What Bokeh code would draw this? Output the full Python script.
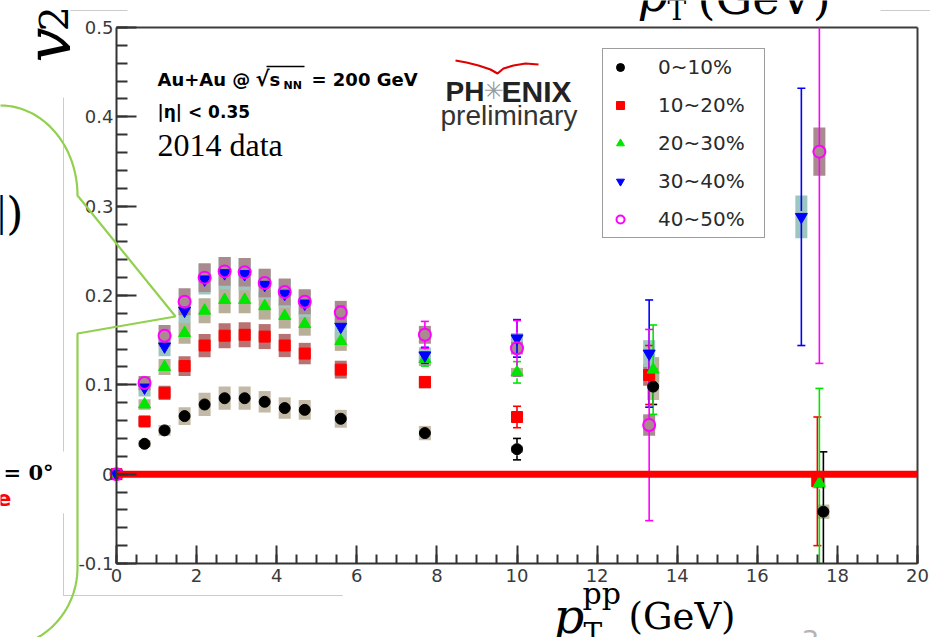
import numpy as np
from bokeh.plotting import figure
from bokeh.models import (Range1d, LinearAxis, FixedTicker, Label, PolyAnnotation,
                          Legend, LegendItem, ColumnDataSource)
from bokeh.embed import file_html
from bokeh.resources import INLINE

# ---------------- data ----------------
centralities = ["0~10%", "10~20%", "20~30%", "30~40%", "40~50%"]

pt_0_10 = [0.0, 0.7, 1.2, 1.7, 2.2, 2.7, 3.2, 3.7, 4.2, 4.7, 5.6, 7.7, 10.0, 13.4, 17.65]
v2_0_10 = [0.0, 0.034, 0.049, 0.065, 0.078, 0.085, 0.085, 0.081, 0.074, 0.072, 0.062, 0.046, 0.028, 0.098, -0.042]
stat_0_10 = [0.0, 0.002, 0.002, 0.003, 0.003, 0.003, 0.003, 0.003, 0.003, 0.003, 0.004, 0.005, 0.012, 0.020, 0.067]
sys_0_10 = [0.0, 0.004, 0.006, 0.010, 0.013, 0.013, 0.013, 0.012, 0.012, 0.011, 0.010, 0.008, 0.004, 0.015, 0.008]

pt_10_20 = [0.0, 0.7, 1.2, 1.7, 2.2, 2.7, 3.2, 3.7, 4.2, 4.7, 5.6, 7.7, 10.0, 13.3, 17.5]
v2_10_20 = [0.0, 0.059, 0.091, 0.121, 0.144, 0.155, 0.156, 0.154, 0.144, 0.135, 0.117, 0.103, 0.064, 0.111, -0.008]
stat_10_20 = [0.0, 0.002, 0.002, 0.003, 0.003, 0.003, 0.003, 0.003, 0.003, 0.003, 0.004, 0.005, 0.012, 0.033, 0.072]
sys_10_20 = [0.0, 0.005, 0.008, 0.011, 0.013, 0.014, 0.014, 0.014, 0.013, 0.012, 0.010, 0.007, 0.004, 0.012, 0.006]

pt_20_30 = [0.0, 0.7, 1.2, 1.7, 2.2, 2.7, 3.2, 3.7, 4.2, 4.7, 5.6, 7.7, 10.0, 13.4, 17.55]
v2_20_30 = [0.0, 0.078, 0.120, 0.158, 0.183, 0.195, 0.195, 0.188, 0.177, 0.168, 0.149, 0.129, 0.114, 0.117, -0.010]
stat_20_30 = [0.0, 0.002, 0.003, 0.003, 0.003, 0.003, 0.003, 0.003, 0.003, 0.004, 0.005, 0.008, 0.012, 0.050, 0.106]
sys_20_30 = [0.0, 0.006, 0.009, 0.012, 0.014, 0.015, 0.015, 0.015, 0.014, 0.013, 0.011, 0.008, 0.005, 0.014, 0.006]

pt_30_40 = [0.0, 0.7, 1.2, 1.7, 2.2, 2.7, 3.2, 3.7, 4.2, 4.7, 5.6, 7.7, 10.0, 13.3, 17.1]
v2_30_40 = [0.0, 0.097, 0.143, 0.183, 0.218, 0.225, 0.224, 0.212, 0.202, 0.191, 0.165, 0.133, 0.152, 0.135, 0.288]
stat_30_40 = [0.0, 0.003, 0.003, 0.004, 0.004, 0.004, 0.004, 0.004, 0.004, 0.005, 0.006, 0.009, 0.021, 0.060, 0.144]
sys_30_40 = [0.0, 0.010, 0.011, 0.014, 0.017, 0.018, 0.018, 0.017, 0.016, 0.015, 0.013, 0.009, 0.006, 0.015, 0.024]

pt_40_50 = [0.0, 0.7, 1.2, 1.7, 2.2, 2.7, 3.2, 3.7, 4.2, 4.7, 5.6, 7.7, 10.0, 13.3, 17.55]
v2_40_50 = [0.0, 0.102, 0.155, 0.193, 0.220, 0.227, 0.226, 0.214, 0.204, 0.193, 0.181, 0.156, 0.141, 0.055, 0.361]
stat_40_50 = [0.0, 0.003, 0.004, 0.004, 0.004, 0.004, 0.004, 0.005, 0.005, 0.006, 0.007, 0.015, 0.031, 0.107, 0.237]
sys_40_50 = [0.0, 0.008, 0.012, 0.015, 0.016, 0.016, 0.016, 0.016, 0.015, 0.014, 0.013, 0.010, 0.007, 0.012, 0.027]

x_ticks = [0, 2, 4, 6, 8, 10, 12, 14, 16, 18, 20]
x_tick_labels = ["0", "2", "4", "6", "8", "10", "12", "14", "16", "18", "20"]
y_ticks = [-0.1, 0.0, 0.1, 0.2, 0.3, 0.4, 0.5]
y_tick_labels = ["-0.1", "0", "0.1", "0.2", "0.3", "0.4", "0.5"]

# ---------------- layout: the frame covers the whole page ----------------
W, H = 930, 637
FL, FT, FR, FB = 116, 27, 917, 563          # ROOT frame edges in page pixels
XMIN, XMAX = x_ticks[0], x_ticks[-1]
YMIN, YMAX = y_ticks[0], y_ticks[-1]
kx = (FR - FL) / (XMAX - XMIN)
ky = (FB - FT) / (YMAX - YMIN)
x_range = Range1d(XMIN - FL / kx, XMAX + (W - FR) / kx)
y_range = Range1d(YMIN - (H - FB) / ky, YMAX + FT / ky)

p = figure(width=W, height=H, x_range=x_range, y_range=y_range,
           output_backend="svg", toolbar_location=None,
           x_axis_location=None, y_axis_location=None,
           min_border=0, min_border_left=0, min_border_right=0,
           min_border_top=0, min_border_bottom=0)
p.background_fill_color = "white"
p.border_fill_color = "white"
p.outline_line_color = None
for g in p.grid:
    g.visible = False

x_minor = [XMIN + 0.5 * i for i in range(int((XMAX - XMIN) / 0.5) + 1)]
y_minor = [round(YMIN + 0.02 * i, 3) for i in range(31)]

AX = "#333333"
common = dict(axis_line_color=AX, axis_line_width=2,
              major_tick_line_color=AX, major_tick_line_width=2,
              minor_tick_line_color=AX, minor_tick_line_width=2,
              major_tick_out=0, minor_tick_out=0,
              major_label_text_font="DejaVu Sans", major_label_text_font_size="18px",
              major_label_text_color="#3a3a3a")
yax = LinearAxis(ticker=FixedTicker(ticks=y_ticks, minor_ticks=y_minor),
                 major_label_overrides=dict(zip(y_ticks, y_tick_labels)),
                 fixed_location=XMIN, bounds=(YMIN, YMAX),
                 major_tick_in=20, minor_tick_in=11, major_label_standoff=3, **common)
xax = LinearAxis(ticker=FixedTicker(ticks=x_ticks, minor_ticks=x_minor),
                 major_label_overrides=dict(zip(x_ticks, x_tick_labels)),
                 fixed_location=YMIN, bounds=(XMIN, XMAX),
                 major_tick_in=18, minor_tick_in=9, major_label_standoff=5, **common)
p.add_layout(yax, "left")
p.add_layout(xax, "below")

# ROOT frame: top and right edges
p.segment(x0=[XMIN, XMAX], y0=[YMAX, YMIN], x1=[XMAX, XMAX], y1=[YMAX, YMAX],
          line_color="#3c3c3c", line_width=2)

# ---------------- series ----------------
series = [
    (pt_0_10, v2_0_10, stat_0_10, sys_0_10, "#000000", "#c3b9a7", "circle", 11, "#000000"),
    (pt_10_20, v2_10_20, stat_10_20, sys_10_20, "#ff0000", "#b97272", "square", 11, "#ff0000"),
    (pt_20_30, v2_20_30, stat_20_30, sys_20_30, "#00e600", "#b8af98", "triangle", 12, "#00e600"),
    (pt_30_40, v2_30_40, stat_30_40, sys_30_40, "#0000ff", "#9ec6c0", "inverted_triangle", 12, "#0000ff"),
    (pt_40_50, v2_40_50, stat_40_50, sys_40_50, "#ff00ff", "#a98a8e", "circle", 12, None),
]

BOXW = 0.30
GAP = 6.0 / ky   # marker radius in v2 units: error lines stop at the marker, ROOT style

srcs = []
for pt, v2, st, sy_, col, scol, mk, ms, fill in series:
    pt = np.array(pt); v2 = np.array(v2); sy_ = np.array(sy_)
    src = ColumnDataSource(dict(pt=pt, v2=v2, l=pt - BOXW / 2, r=pt + BOXW / 2,
                                lo=v2 - sy_, hi=v2 + sy_))
    srcs.append(src)
    p.quad(left="l", right="r", bottom="lo", top="hi", source=src,
           fill_color=scol, line_color=None)

marker_renderers = []
for (pt, v2, st, sy_, col, scol, mk, ms, fill), src in zip(series, srcs):
    pt = np.array(pt); v2 = np.array(v2); st = np.array(st)
    m = st > GAP
    up = v2[m] + st[m]; dn = v2[m] - st[m]
    e = ColumnDataSource(dict(x=pt[m], up0=v2[m] + GAP, up1=np.clip(up, YMIN, YMAX),
                              dn0=v2[m] - GAP, dn1=np.clip(dn, YMIN, YMAX)))
    p.segment(x0="x", y0="up0", x1="x", y1="up1", source=e, line_color=col, line_width=1.6)
    p.segment(x0="x", y0="dn0", x1="x", y1="dn1", source=e, line_color=col, line_width=1.6)
    cu = up <= YMAX; cd = dn >= YMIN
    p.scatter(x=pt[m][cu], y=up[cu], marker="dash", size=8, line_color=col, line_width=1.6)
    p.scatter(x=pt[m][cd], y=dn[cd], marker="dash", size=8, line_color=col, line_width=1.6)

for (pt, v2, st, sy_, col, scol, mk, ms, fill), src in zip(series, srcs):
    if fill is None:
        r = p.scatter(x="pt", y="v2", source=src, marker=mk, size=ms, fill_color=None,
                      line_color=col, line_width=2)
    else:
        r = p.scatter(x="pt", y="v2", source=src, marker=mk, size=ms, fill_color=fill,
                      line_color=col, line_width=1)
    marker_renderers.append(r)

# v2 = 0 reference line
p.segment(x0=[XMIN], y0=[0.0], x1=[XMAX], y1=[0.0], line_color="#ff0000", line_width=7,
          line_cap="butt")

# ---------------- legend ----------------
legend = Legend(items=[LegendItem(label=c, renderers=[r]) for c, r in zip(centralities, marker_renderers)],
                location=(602, H - 238), orientation="vertical",
                label_text_font="DejaVu Sans", label_text_font_size="20px",
                label_text_color="#2a2a2a", label_standoff=27, label_width=100,
                label_height=20, glyph_width=22, glyph_height=20, spacing=14, padding=6,
                border_line_color="#3c3c3c", border_line_width=1.5,
                background_fill_color="white", background_fill_alpha=1.0, margin=0)
p.add_layout(legend, "center")

# ---------------- page decorations (page pixels, from the top-left) ----------------
DESC = 0.24   # Bokeh places the alphabetic baseline this many ems low; compensate

def label(cx, cy, text, size, font="DejaVu Sans", style="normal", color="#000000",
          align="left", angle=0.0):
    if angle == 0.0:
        x, y = cx, H - (cy - DESC * size)
    else:
        x, y = cx - DESC * size, H - cy
    p.add_layout(Label(x=x, y=y, x_units="screen", y_units="screen", text=text,
                       text_font=font, text_font_size=f"{size}px", text_font_style=style,
                       text_color=color, text_align=align, text_baseline="alphabetic",
                       angle=angle))

def poly(pts, color, width):
    p.add_layout(PolyAnnotation(xs=[a for a, b in pts], ys=[H - b for a, b in pts],
                                xs_units="screen", ys_units="screen",
                                fill_color=None, fill_alpha=0, line_color=color,
                                line_alpha=1.0, line_width=width))

# thin grey slide lines
GREY = "#cccccc"
poly([(70, 10), (127, 10)], GREY, 1)
poly([(880, 10), (932, 10)], GREY, 1)
poly([(63, 97), (63, 451)], GREY, 1)
poly([(63, 513), (63, 595), (342, 595), (63, 595)], GREY, 1)

# green callout outline
t = np.linspace(0, np.pi / 2, 30)
top_arc = [(77 * np.sin(a), 195 - 90 * np.cos(a)) for a in t]
bot_arc = [(77 * np.cos(a), 567 + 80 * np.sin(a)) for a in t]
callout = top_arc + [(175, 316), (77, 333)] + bot_arc + [(-30, 660), (-30, 100)]
poly(callout, "#92d050", 2.2)

# axis titles of the slide
label(63, 62, "v", 62, font="DejaVu Serif", style="italic", angle=np.pi / 2)
label(63, 31, "2", 40, font="DejaVu Serif", angle=np.pi / 2)

label(637, 5, "p", 48, font="DejaVu Serif", style="italic")
label(667, 17, "T", 28, font="DejaVu Serif")
label(697, 9, "(GeV)", 46, font="DejaVu Serif")

label(553, 627, "p", 48, font="DejaVu Serif", style="italic")
label(582, 600, "pp", 30, font="DejaVu Serif")
label(583, 640, "T", 28, font="DejaVu Serif")
label(628, 625, "(GeV)", 37, font="DejaVu Serif")

# cut-off slide texts on the left and the page number
label(23, 224, "])", 44, font="DejaVu Serif", align="right")
label(53, 477, "\u03d5 = 0\u00b0", 21, font="DejaVu Serif", style="bold", align="right")
label(11, 503, "e", 22, font="DejaVu Sans", style="bold", color="#ff0000", align="right")
label(810, 647, "3", 28, font="DejaVu Sans", color="#b4b4b4", align="center")

# plot annotations
label(157, 83, "Au+Au @", 18, style="bold")
label(255, 84, "\u221a", 21, style="bold")
label(269, 83, "s", 18, style="bold")
label(283, 88, "NN", 11, style="bold")
poly([(266, 66), (304, 66)], "#000000", 1.3)
label(311, 83, "= 200 GeV", 18, style="bold")
label(157, 116, "|\u03b7| < 0.35", 17, style="bold")
label(157, 152, "2014 data", 32, font="Liberation Serif")

# PHENIX preliminary logo
label(484, 98, "PH", 28, font="Liberation Sans", style="bold", color="#222222", align="right")
label(493, 96, "\u2733", 24, color="#9a9a9a", align="center")
label(501, 98, "ENIX", 30, font="Liberation Sans", style="bold", color="#222222")
label(440, 122, "preliminary", 28, font="Liberation Sans", color="#333333")
swoosh = [(455, 60), (466, 62), (478, 65), (490, 69), (497, 73), (503, 68),
          (513, 65), (525, 63), (538, 64)]
poly(swoosh + swoosh[::-1], "#e00000", 2.2)

open("out.html", "w").write(file_html(p, INLINE))
